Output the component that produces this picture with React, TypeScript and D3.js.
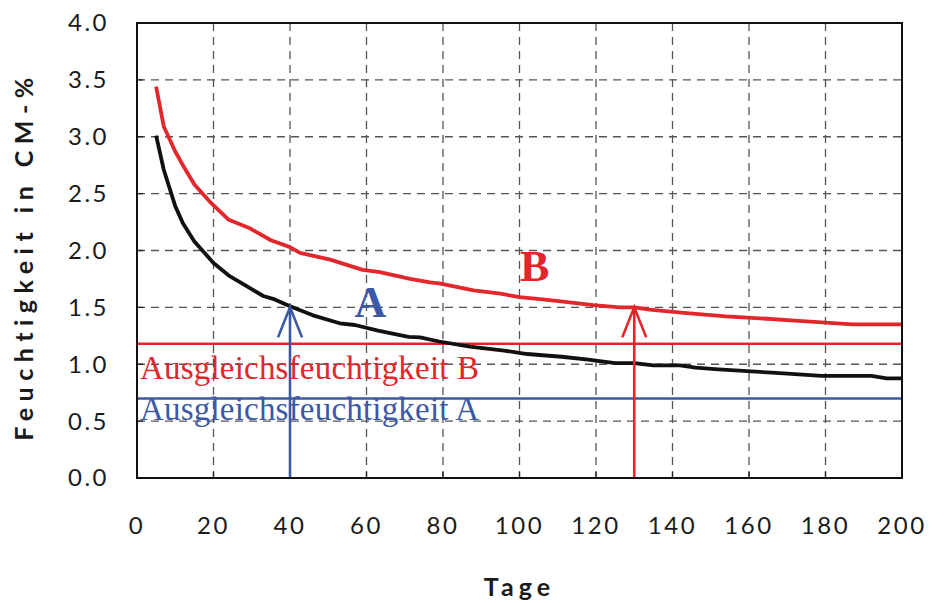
import React from "react";
import * as d3 from "d3";

// Feuchtigkeit A (schwarz)
const daysA = [5, 7, 10, 12, 15, 20, 24, 28, 33, 36, 40, 46, 53, 57, 63, 71, 74, 79, 87, 96, 102, 111, 118, 125, 130, 135, 142, 146, 152, 166, 179, 192, 196, 200];
const valuesA = [3.01, 2.71, 2.39, 2.24, 2.08, 1.89, 1.78, 1.7, 1.6, 1.57, 1.51, 1.43, 1.36, 1.345, 1.295, 1.24, 1.237, 1.2, 1.155, 1.12, 1.09, 1.066, 1.04, 1.01, 1.01, 0.99, 0.99, 0.97, 0.955, 0.926, 0.897, 0.897, 0.876, 0.876];

// Feuchtigkeit B (rot)
const daysB = [5, 7, 10, 12.5, 15, 19, 24, 29.5, 35, 40, 42.6, 50.5, 59, 63.5, 71.4, 76.6, 79, 88, 95, 100, 106, 111.4, 119.3, 126.3, 130, 134, 143.7, 154, 164.7, 174, 187, 200];
const valuesB = [3.44, 3.09, 2.87, 2.72, 2.58, 2.43, 2.27, 2.195, 2.09, 2.03, 1.98, 1.92, 1.83, 1.81, 1.75, 1.72, 1.71, 1.65, 1.62, 1.59, 1.57, 1.55, 1.52, 1.5, 1.5, 1.48, 1.45, 1.42, 1.4, 1.38, 1.35, 1.35];

const xTicks = [0, 20, 40, 60, 80, 100, 120, 140, 160, 180, 200];
const yTicks = [0, 0.5, 1, 1.5, 2, 2.5, 3, 3.5, 4];

const equilibriumLabels = ["Ausgleichsfeuchtigkeit B", "Ausgleichsfeuchtigkeit A"];
const equilibriumValues = [1.18, 0.7];
const arrowDays = [40, 130];
const arrowValues = [1.5, 1.5];

const RED = "#e3262b";
const BLUE = "#3c58a6";
const BLACK = "#111111";

export default function App() {
  const width = 948;
  const height = 603;
  const margin = { top: 23, right: 46, bottom: 125, left: 137 };
  const innerW = width - margin.left - margin.right;
  const innerH = height - margin.top - margin.bottom;

  const x = d3.scaleLinear().domain([0, 200]).range([0, innerW]);
  const y = d3.scaleLinear().domain([0, 4]).range([innerH, 0]);

  const line = d3.line<[number, number]>()
    .x(d => x(d[0]))
    .y(d => y(d[1]));

  const pathA = line(daysA.map((d, i) => [d, valuesA[i]]));
  const pathB = line(daysB.map((d, i) => [d, valuesB[i]]));

  const tickFont = "Lato, 'Open Sans', sans-serif";
  const serif = "'Liberation Serif', 'DejaVu Serif', serif";
  const colors = [RED, BLUE];

  return (
    <svg width={width} height={height} style={{ position: "absolute", left: 0, top: 0, background: "#fff" }}>
      <g transform={`translate(${margin.left},${margin.top})`}>
        {/* grid */}
        {xTicks.slice(1, -1).map(t => (
          <line key={"gx" + t} x1={x(t)} x2={x(t)} y1={0} y2={innerH}
            stroke="#555" strokeWidth={1.3} strokeDasharray="8,6" />
        ))}
        {yTicks.slice(1, -1).map(t => (
          <line key={"gy" + t} x1={0} x2={innerW} y1={y(t)} y2={y(t)}
            stroke="#555" strokeWidth={1.3} strokeDasharray="8,6" />
        ))}

        {/* tick marks */}
        {xTicks.map(t => (
          <line key={"tx" + t} x1={x(t)} x2={x(t)} y1={innerH} y2={innerH - 6} stroke="#222" strokeWidth={1.3} />
        ))}
        {yTicks.map(t => (
          <line key={"ty" + t} x1={0} x2={6} y1={y(t)} y2={y(t)} stroke="#222" strokeWidth={1.3} />
        ))}

        {/* equilibrium lines */}
        {equilibriumValues.map((v, i) => (
          <line key={"eq" + i} x1={0} x2={innerW} y1={y(v)} y2={y(v)}
            stroke={colors[i]} strokeWidth={2.5} />
        ))}

        {/* curves */}
        <path d={pathB ?? ""} fill="none" stroke={RED} strokeWidth={3.8} strokeLinejoin="round" />
        <path d={pathA ?? ""} fill="none" stroke={BLACK} strokeWidth={3.8} strokeLinejoin="round" />

        {/* arrows */}
        {arrowDays.map((d, i) => {
          const c = i === 0 ? BLUE : RED;
          const tx = x(d);
          const ty = y(arrowValues[i]);
          return (
            <g key={"ar" + i} stroke={c} strokeWidth={2.6} fill="none">
              <line x1={tx} x2={tx} y1={innerH} y2={ty} />
              <polyline points={`${tx - 12},${ty + 30} ${tx},${ty} ${tx + 12},${ty + 30}`} />
            </g>
          );
        })}

        {/* equilibrium labels */}
        {equilibriumLabels.map((l, i) => (
          <text key={"el" + i} x={3} y={y(equilibriumValues[i]) + (i === 0 ? 35 : 22)}
            fill={colors[i]} fontFamily={serif} fontSize={33} letterSpacing={0.2}>{l}</text>
        ))}

        {/* curve labels */}
        <text x={x(61)} y={294} textAnchor="middle" fill={BLUE} fontFamily={serif}
          fontWeight="bold" fontSize={44}>A</text>
        <text x={x(104)} y={258} textAnchor="middle" fill={RED} fontFamily={serif}
          fontWeight="bold" fontSize={44}>B</text>

        {/* frame */}
        <rect x={0} y={0} width={innerW} height={innerH} fill="none" stroke="#111" strokeWidth={2} />

        {/* tick labels */}
        {yTicks.map(t => (
          <text key={"ly" + t} x={-28} y={y(t)} dy="0.35em" textAnchor="end"
            fontFamily={tickFont} fontSize={24} letterSpacing={2.5} fill="#1a1a1a">{t.toFixed(1)}</text>
        ))}
        {xTicks.map(t => (
          <text key={"lx" + t} x={x(t)} y={innerH + 56} textAnchor="middle"
            fontFamily={tickFont} fontSize={24} letterSpacing={2.5} fill="#1a1a1a">{t}</text>
        ))}

        {/* axis titles */}
        <text x={innerW / 2} y={innerH + 118} textAnchor="middle" fontFamily={tickFont}
          fontWeight="bold" fontSize={25} letterSpacing={5} fill="#1a1a1a">Tage</text>
        <text transform={`translate(${-104},${233}) rotate(-90)`} textAnchor="middle"
          fontFamily={tickFont} fontWeight="bold" fontSize={25} letterSpacing={6.5} fill="#1a1a1a">Feuchtigkeit in CM-%</text>
      </g>
    </svg>
  );
}
